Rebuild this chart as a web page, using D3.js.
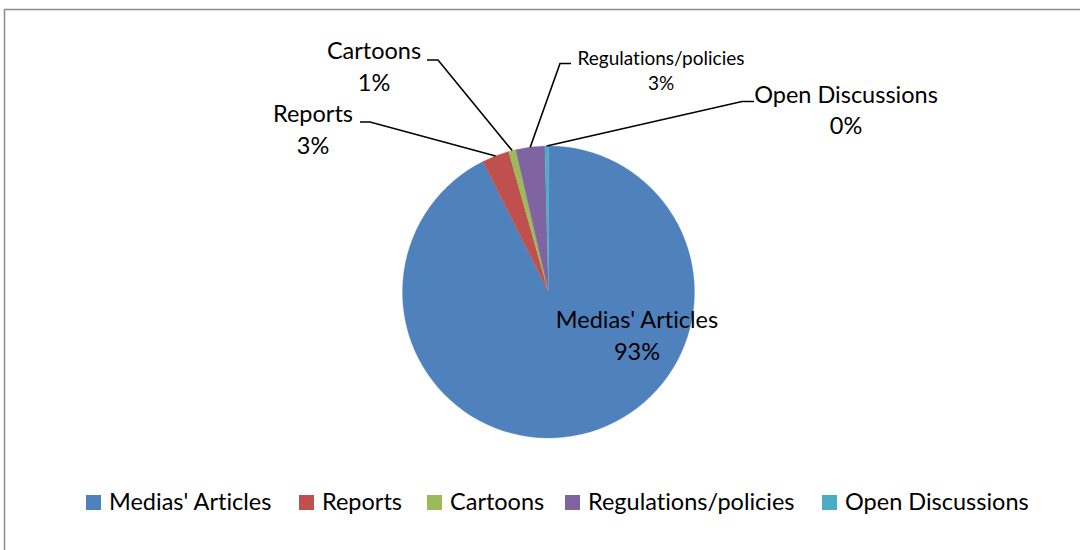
<!DOCTYPE html>
<html>
<head>
<meta charset="utf-8">
<script src="https://cdn.jsdelivr.net/npm/d3@7"></script>
<style>
  html, body { margin: 0; padding: 0; background: #fff; }
  svg text { font-family: Lato, "Liberation Sans", sans-serif; fill: #000; font-variant-ligatures: none; }
</style>
</head>
<body>
<svg id="chart" width="1080" height="550"></svg>
<script>
// Share of material types (percent)
const categories = ["Medias' Articles", "Reports", "Cartoons", "Regulations/policies", "Open Discussions"];
const shares = [92.6, 3.0, 0.8, 3.2, 0.4];
const colors = ["#4F81BD", "#C0504D", "#9BBB59", "#8064A2", "#4BACC6"];

// Label placement: text anchor point, font size, line gap, and the leader elbow
const labelLayout = [
  { x: 637, y: 328, size: 23.5, gap: 32, leader: null },
  { x: 313, y: 122, size: 23.5, gap: 32, leader: { x1: 360, x2: 370, y: 122 } },
  { x: 374, y: 59,  size: 23.5, gap: 32, leader: { x1: 427, x2: 438, y: 60 } },
  { x: 661, y: 65,  size: 19, gap: 25, leader: { x1: 571, x2: 560, y: 63.5 } },
  { x: 846, y: 103, size: 23.5, gap: 30.5, leader: { x1: 754, x2: 742, y: 101.5 } }
];

const svg = d3.select("#chart");

// chart frame
svg.append("rect")
  .attr("x", 4.5).attr("y", 9.5)
  .attr("width", 1200).attr("height", 700)
  .attr("fill", "none").attr("stroke", "#8c8c8c").attr("stroke-width", 1.5);

const cx = 548.5, cy = 292, r = 146;
const total = d3.sum(shares);
const pct = v => Math.round(v / total * 100) + "%";

const pie = d3.pie().sort(null).value(d => d.v);
const arcs = pie(categories.map((c, i) => ({ c, v: shares[i], i })));
const arc = d3.arc().innerRadius(0).outerRadius(r);

const g = svg.append("g").attr("transform", `translate(${cx},${cy})`);
g.selectAll("path.slice")
  .data(arcs)
  .join("path")
  .attr("class", "slice")
  .attr("d", arc)
  .attr("fill", d => colors[d.data.i])
  .attr("stroke", d => colors[d.data.i])
  .attr("stroke-width", 0.3);

// leader lines from slice edge midpoint to the label elbow
arcs.forEach(d => {
  const L = labelLayout[d.data.i];
  if (!L.leader) return;
  const mid = (d.startAngle + d.endAngle) / 2;
  const px = cx + r * Math.sin(mid), py = cy - r * Math.cos(mid);
  svg.append("polyline")
    .attr("points", [[L.leader.x1, L.leader.y], [L.leader.x2, L.leader.y], [px, py]].map(p => p.join(",")).join(" "))
    .attr("fill", "none").attr("stroke", "#000").attr("stroke-width", 1.6);
});

// slice labels: name and rounded percentage
arcs.forEach(d => {
  const L = labelLayout[d.data.i];
  const t = svg.append("text")
    .attr("text-anchor", "middle")
    .attr("font-size", L.size);
  t.append("tspan").attr("x", L.x).attr("y", L.y).text(d.data.c);
  t.append("tspan").attr("x", L.x).attr("y", L.y + L.gap).text(pct(d.data.v));
});

// legend
const legendX = [86, 299, 427, 565, 822];
const lg = svg.append("g");
categories.forEach((c, i) => {
  lg.append("rect")
    .attr("x", legendX[i]).attr("y", 495)
    .attr("width", 15).attr("height", 15)
    .attr("fill", colors[i]);
  lg.append("text")
    .attr("x", legendX[i] + 23).attr("y", 510)
    .attr("font-size", 23.5)
    .text(c);
});
</script>
</body>
</html>
